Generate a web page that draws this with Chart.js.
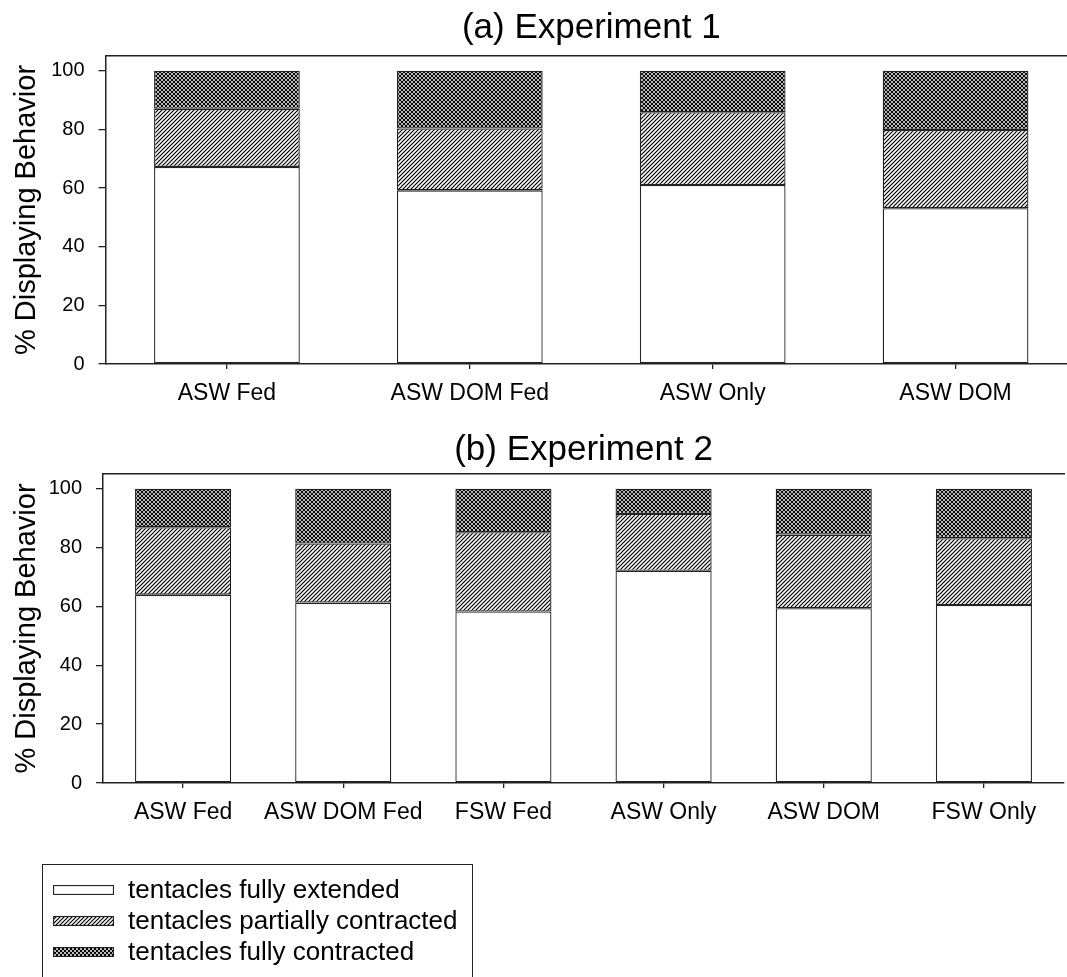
<!DOCTYPE html>
<html>
<head>
<meta charset="utf-8">
<script src="https://cdn.jsdelivr.net/npm/chart.js@4.4.1/dist/chart.umd.min.js"></script>
<style>
  html, body { margin: 0; padding: 0; background: #fff; overflow: hidden; }
  #wrap { position: relative; width: 1067px; height: 977px; overflow: hidden; }
  canvas.chart { position: absolute; left: 0; }
  #legend {
    position: absolute; left: 42px; top: 864px; width: 431px; height: 130px;
    border: 1.5px solid #222; border-bottom: none; box-sizing: border-box;
    font-family: 'Liberation Sans', Arial, sans-serif; font-size: 26px; color: #000;
  }
  #legend .row { position: absolute; left: 10px; height: 29px; display: flex; align-items: center; }
  #legend canvas { margin-right: 14px; }
</style>
</head>
<body>
<div id="wrap">
  <canvas id="chartA" class="chart" width="1080" height="422" style="top:0"></canvas>
  <canvas id="chartB" class="chart" width="1067" height="440" style="top:422px"></canvas>
  <div id="legend"></div>
</div>
<script>
// experiment 1
const expt1Labels = ['ASW Fed', 'ASW DOM Fed', 'ASW Only', 'ASW DOM'];
const expt1Extended = [67.2, 59.2, 61.0, 53.1];
const expt1Partial = [19.8, 21.1, 24.8, 26.7];
const expt1Full = [13.0, 19.7, 14.2, 20.2];

// experiment 2
const expt2Labels = ['ASW Fed', 'ASW DOM Fed', 'FSW Fed', 'ASW Only', 'ASW DOM', 'FSW Only'];
const expt2Extended = [64.0, 61.3, 58.3, 72.1, 59.4, 60.5];
const expt2Partial = [22.9, 20.1, 26.9, 19.3, 25.0, 22.7];
const expt2Full = [13.1, 18.6, 14.8, 8.6, 15.6, 16.8];

const yTicks = [0, 20, 40, 60, 80, 100];
const seriesNames = ['tentacles fully extended', 'tentacles partially contracted', 'tentacles fully contracted'];

const FONT = "'Liberation Sans', Arial, sans-serif";
const INK = '#222';

const tile = (draw) => {
    const c = document.createElement('canvas');
    c.width = 4; c.height = 4;
    const g = c.getContext('2d');
    g.fillStyle = '#fff';
    g.fillRect(0, 0, 4, 4);
    g.strokeStyle = '#000';
    draw(g);
    return g.createPattern(c, 'repeat');
};

const diag = tile((g) => {
    g.lineWidth = 1.2;
    for (const k of [-4, 0, 4]) {
        g.beginPath(); g.moveTo(k - 1, 5); g.lineTo(k + 5, -1); g.stroke();
    }
});

const cross = tile((g) => {
    g.lineWidth = 1.05;
    for (const k of [-4, 0, 4]) {
        g.beginPath(); g.moveTo(k - 1, 5); g.lineTo(k + 5, -1); g.stroke();
        g.beginPath(); g.moveTo(k - 1, -1); g.lineTo(k + 5, 5); g.stroke();
    }
});

const fills = ['#fff', diag, cross];

const chart = (id, labels, series, title, yWidth, xHeight, titlePad, padRight) => {
    return new Chart(document.getElementById(id).getContext('2d'), {
        type: 'bar',
        data: {
            labels: labels,
            datasets: series.map((data, i) => ({
                label: seriesNames[i],
                data: data,
                backgroundColor: fills[i],
                borderColor: INK,
                borderWidth: 1.3,
                borderSkipped: false,
                barPercentage: 0.6,
                categoryPercentage: 1.0,
            }))
        },
        options: {
            responsive: false,
            animation: false,
            layout: { padding: { left: 0, right: padRight, top: 0, bottom: 0 } },
            plugins: {
                legend: { display: false },
                tooltip: { enabled: false },
                title: {
                    display: true,
                    text: title,
                    fullSize: false,
                    color: '#000',
                    font: { family: FONT, size: 35, weight: 'normal', lineHeight: 1.2 },
                    padding: titlePad,
                }
            },
            scales: {
                x: {
                    stacked: true,
                    grid: { display: true, drawOnChartArea: false, drawTicks: true, tickLength: 5, offset: false, color: INK, lineWidth: 1.3 },
                    border: { display: true, color: INK, width: 1.5 },
                    ticks: { color: '#000', font: { family: FONT, size: 23 }, padding: 11, maxRotation: 0, autoSkip: false },
                    afterFit: (scale) => { scale.height = xHeight; },
                },
                xTop: {
                    type: 'category',
                    position: 'top',
                    grid: { display: false },
                    ticks: { display: false },
                    border: { display: true, color: INK, width: 1.5 },
                    afterFit: (scale) => { scale.height = 0; },
                },
                y: {
                    stacked: true,
                    min: 0,
                    max: 105,
                    afterBuildTicks: (scale) => {
                        scale.ticks = yTicks.map((v) => ({ value: v }));
                    },
                    grid: { display: true, drawOnChartArea: false, drawTicks: true, tickLength: 7, color: INK, lineWidth: 1.3 },
                    border: { display: true, color: INK, width: 1.5 },
                    ticks: { color: '#000', font: { family: FONT, size: 20 }, padding: 14 },
                    title: {
                        display: true,
                        text: '% Displaying Behavior',
                        color: '#000',
                        font: { family: FONT, size: 29, lineHeight: 1.2 },
                        padding: { top: 10, bottom: 0 },
                    },
                    afterFit: (scale) => { scale.width = yWidth; },
                }
            }
        }
    });
};

chart('chartA', expt1Labels, [expt1Extended, expt1Partial, expt1Full], '(a) Experiment 1', 105.5, 58, { top: 7, bottom: 7 }, 3);
chart('chartB', expt2Labels, [expt2Extended, expt2Partial, expt2Full], '(b) Experiment 2', 103, 79, { top: 7, bottom: 3 }, 3);

// legend
const legend = document.getElementById('legend');
const rowTops = [10, 41, 72];
seriesNames.forEach((name, i) => {
    const row = document.createElement('div');
    row.className = 'row';
    row.style.top = rowTops[i] + 'px';
    const sw = document.createElement('canvas');
    sw.width = 61; sw.height = 10;
    const g = sw.getContext('2d');
    g.fillStyle = fills[i];
    g.fillRect(0, 0, 61, 10);
    g.strokeStyle = INK;
    g.lineWidth = 1.2;
    g.strokeRect(0.5, 0.5, 60, 9);
    const label = document.createElement('span');
    label.textContent = name;
    row.appendChild(sw);
    row.appendChild(label);
    legend.appendChild(row);
});
</script>
</body>
</html>
